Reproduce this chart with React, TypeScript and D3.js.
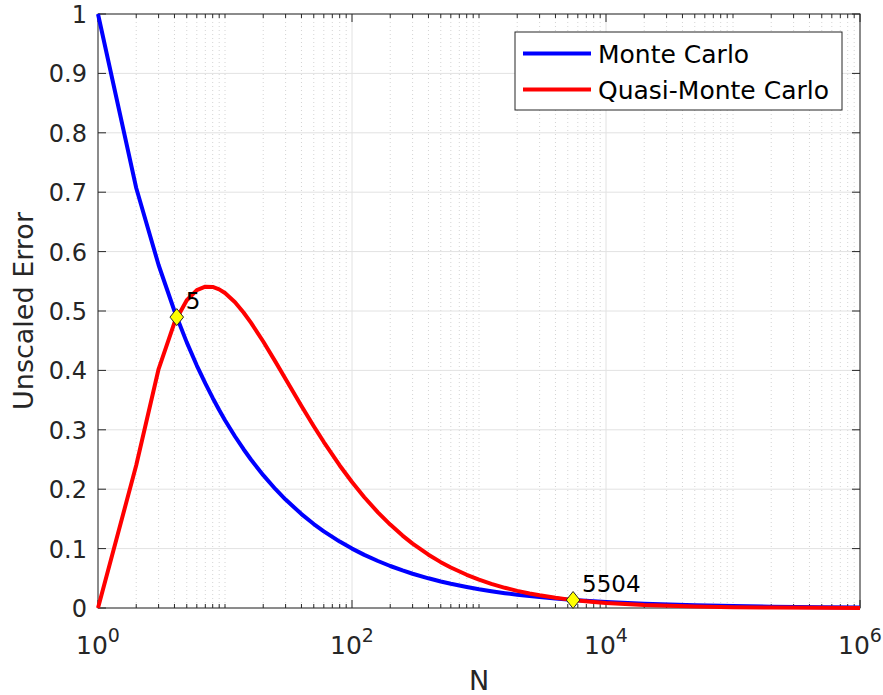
import React from "react";
import * as d3 from "d3";

const sampleN = [1, 2, 3, 4, 5, 6, 7, 8, 9, 10, 12, 14, 16, 20, 25, 30, 40, 50, 60, 80, 100, 125, 160, 200, 250, 300, 400, 500, 600, 800, 1000, 1250, 1600, 2000, 2500, 3000, 4000, 5000, 6000, 8000, 10000, 20000, 50000, 100000, 200000, 500000, 1000000];
const monteCarlo = [1, 0.7071, 0.5774, 0.5, 0.4472, 0.4082, 0.378, 0.3536, 0.3333, 0.3162, 0.2887, 0.2673, 0.25, 0.2236, 0.2, 0.1826, 0.1581, 0.1414, 0.1291, 0.1118, 0.1, 0.0894, 0.0791, 0.0707, 0.0632, 0.0577, 0.05, 0.0447, 0.0408, 0.0354, 0.0316, 0.0283, 0.025, 0.0224, 0.02, 0.0183, 0.0158, 0.0141, 0.0129, 0.0112, 0.01, 0.00707, 0.00447, 0.00316, 0.00224, 0.00141, 0.001];
const quasiMonteCarlo = [0, 0.2402, 0.4023, 0.4805, 0.5181, 0.5351, 0.5409, 0.5405, 0.5364, 0.5302, 0.5146, 0.4975, 0.4805, 0.4487, 0.4144, 0.3856, 0.3402, 0.3061, 0.2794, 0.24, 0.2121, 0.1865, 0.161, 0.1404, 0.1219, 0.1084, 0.0897, 0.0772, 0.0682, 0.0559, 0.0477, 0.0407, 0.034, 0.0289, 0.0245, 0.0214, 0.0172, 0.0145, 0.0126, 0.0101, 0.00848, 0.0049, 0.00234, 0.00133, 0.000745, 0.000344, 0.000191];
const crossN = [4.17, 5504];
const crossY = [0.4897, 0.01348];
const crossLabels = ["5", "5504"];
const yTicks = [0, 0.1, 0.2, 0.3, 0.4, 0.5, 0.6, 0.7, 0.8, 0.9, 1];
const xTickExps = [0, 2, 4, 6];
const seriesNames = ["Monte Carlo", "Quasi-Monte Carlo"];
const seriesColors = ["#0000ff", "#ff0000"];

const W = 883;
const H = 695;
const L = 98, R = 860, T = 14, B = 608;
const FONT = "'DejaVu Sans', sans-serif";
const AX = "#262626";

export default function App() {
  const x = d3.scaleLog().domain([1, 1e6]).range([L, R]);
  const y = d3.scaleLinear().domain([0, 1]).range([B, T]);

  const line = d3
    .line<number>()
    .x((_, i) => x(sampleN[i]))
    .y((d) => y(d));

  const majorX = xTickExps.map((e) => Math.pow(10, e));
  const minorX: number[] = [];
  for (let e = 0; e < 6; e++) {
    for (let k = 1; k <= 9; k++) {
      const v = k * Math.pow(10, e);
      if (!majorX.includes(v)) minorX.push(v);
    }
  }

  const series = [monteCarlo, quasiMonteCarlo];

  return (
    <svg
      width={W}
      height={H}
      style={{ position: "absolute", left: 0, top: 0, display: "block", background: "#fff" }}
    >
      <rect x={0} y={0} width={W} height={H} fill="#fff" />
      {minorX.map((v, i) => (
        <line key={"mg" + i} x1={x(v)} x2={x(v)} y1={T} y2={B} stroke="#d4d4d4" strokeWidth={1} strokeDasharray="1 3" />
      ))}
      {majorX.map((v, i) => (
        <line key={"gx" + i} x1={x(v)} x2={x(v)} y1={T} y2={B} stroke="#e2e2e2" strokeWidth={1} />
      ))}
      {yTicks.map((v, i) => (
        <line key={"gy" + i} x1={L} x2={R} y1={y(v)} y2={y(v)} stroke="#e2e2e2" strokeWidth={1} />
      ))}

      <rect x={L} y={T} width={R - L} height={B - T} fill="none" stroke={AX} strokeWidth={1} />

      {minorX.map((v, i) => (
        <g key={"mt" + i}>
          <line x1={x(v)} x2={x(v)} y1={B} y2={B - 4} stroke={AX} />
          <line x1={x(v)} x2={x(v)} y1={T} y2={T + 4} stroke={AX} />
        </g>
      ))}
      {majorX.map((v, i) => (
        <g key={"xt" + i}>
          <line x1={x(v)} x2={x(v)} y1={B} y2={B - 8} stroke={AX} />
          <line x1={x(v)} x2={x(v)} y1={T} y2={T + 8} stroke={AX} />
        </g>
      ))}
      {yTicks.map((v, i) => (
        <g key={"yt" + i}>
          <line x1={L} x2={L + 8} y1={y(v)} y2={y(v)} stroke={AX} />
          <line x1={R} x2={R - 8} y1={y(v)} y2={y(v)} stroke={AX} />
        </g>
      ))}

      {yTicks.map((v, i) => (
        <text
          key={"yl" + i}
          x={L - 11}
          y={y(v) + 9}
          textAnchor="end"
          fontFamily={FONT}
          fontSize={24}
          fill={AX}
        >
          {String(v)}
        </text>
      ))}
      {xTickExps.map((e, i) => (
        <text
          key={"xl" + i}
          x={x(Math.pow(10, e))}
          y={654}
          textAnchor="middle"
          fontFamily={FONT}
          fontSize={25}
          fill={AX}
        >
          10
          <tspan dy={-12} fontSize={19}>
            {e}
          </tspan>
        </text>
      ))}

      <text x={479} y={690} textAnchor="middle" fontFamily={FONT} fontSize={27} fill={AX}>
        N
      </text>
      <text
        transform={`translate(33, ${(T + B) / 2}) rotate(-90)`}
        textAnchor="middle"
        fontFamily={FONT}
        fontSize={27}
        fill={AX}
      >
        Unscaled Error
      </text>

      {series.map((s, i) => (
        <path key={"s" + i} d={line(s) || ""} fill="none" stroke={seriesColors[i]} strokeWidth={4} strokeLinejoin="round" />
      ))}

      {crossN.map((n, i) => {
        const cx = x(n);
        const cy = y(crossY[i]);
        const r = 8.5;
        return (
          <g key={"cm" + i}>
            <path
              d={`M${cx},${cy - r}L${cx + r * 0.8},${cy}L${cx},${cy + r}L${cx - r * 0.8},${cy}Z`}
              fill="#ffff00"
              stroke="#262626"
              strokeWidth={1}
            />
            <text x={cx + 9} y={cy - 8} fontFamily={FONT} fontSize={23} fill="#000">
              {crossLabels[i]}
            </text>
          </g>
        );
      })}

      <rect x={515} y={32} width={327} height={78} fill="#fff" stroke={AX} strokeWidth={1} />
      {seriesNames.map((name, i) => (
        <g key={"lg" + i}>
          <line x1={523} x2={591} y1={53.5 + i * 36} y2={53.5 + i * 36} stroke={seriesColors[i]} strokeWidth={4} />
          <text x={598} y={63 + i * 36} fontFamily={FONT} fontSize={25} fill="#000">
            {name}
          </text>
        </g>
      ))}
    </svg>
  );
}
